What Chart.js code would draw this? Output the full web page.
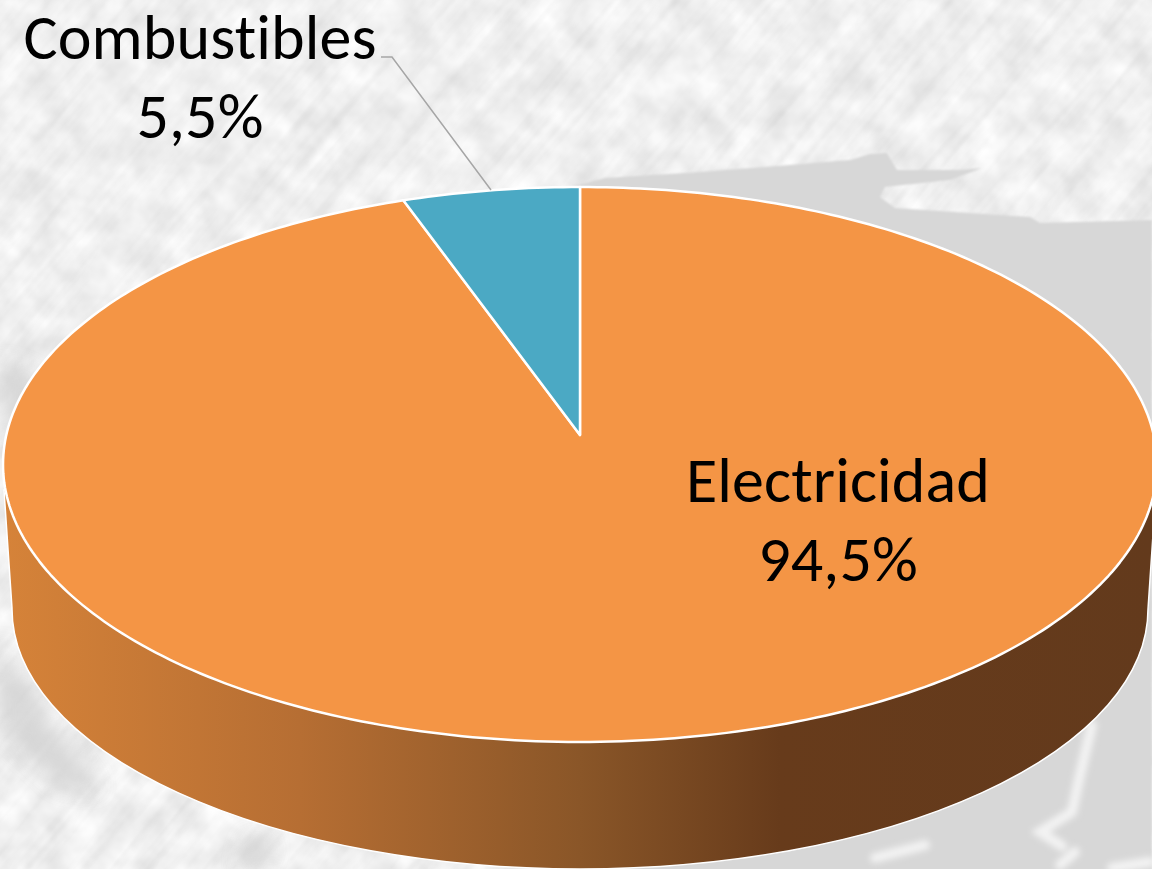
<!DOCTYPE html>
<html>
<head>
<meta charset="utf-8">
<title>Electricidad y combustibles</title>
<script src="https://cdn.jsdelivr.net/npm/chart.js@4/dist/chart.umd.js"></script>
<style>
  html, body { margin: 0; padding: 0; background: #f2f2f2; overflow: hidden; }
  #wrap { position: relative; width: 1152px; height: 869px; overflow: hidden; }
  #bg, #myChart { position: absolute; left: 0; top: 0; }
</style>
</head>
<body>
<div id="wrap">
<svg id="bg" width="1152" height="869" viewBox="0 0 1152 869" xmlns="http://www.w3.org/2000/svg">
  <defs>
    <filter id="mottle" x="0" y="0" width="100%" height="100%" color-interpolation-filters="sRGB">
      <feTurbulence type="fractalNoise" baseFrequency="0.03" numOctaves="3" seed="7"/>
      <feColorMatrix values=".15 0 0 0 .87  .15 0 0 0 .87  .15 0 0 0 .87  0 0 0 0 1"/>
    </filter>
    <filter id="stripes" x="0" y="0" width="100%" height="100%" color-interpolation-filters="sRGB">
      <feTurbulence type="fractalNoise" baseFrequency="0.006 0.11" numOctaves="2" seed="3"/>
      <feColorMatrix values=".08 0 0 0 .955  .08 0 0 0 .955  .08 0 0 0 .955  0 0 0 0 1"/>
    </filter>
    <filter id="soft"><feGaussianBlur stdDeviation="1"/></filter>
    <filter id="softer"><feGaussianBlur stdDeviation="3"/></filter>
    <filter id="softest"><feGaussianBlur stdDeviation="10"/></filter>
  </defs>
  <rect width="1152" height="869" filter="url(#mottle)"/>
  <g transform="rotate(-50 576 434)" style="mix-blend-mode:multiply">
    <rect x="-300" y="-400" width="1752" height="1669" filter="url(#stripes)"/>
  </g>
  <g fill="#d7d7d7" filter="url(#soft)">
    <path d="M560 190 L605 178 L700 172 L790 165 L850 160 L870 154 L887 153 L897 170 L960 170 L982 168 L950 180 L885 187 L880 197 L895 208 L1030 217 L1040 223 L1152 220 L1152 880 L600 880 L700 300 Z"/>
  </g>
  <g fill="#cfcfcf" filter="url(#softest)" opacity=".75">
    <path d="M0 362 L35 375 L50 395 L15 430 L0 425 Z"/>
    <path d="M0 640 L45 710 L100 790 L60 785 L0 730 Z"/>
    <path d="M240 869 L248 838 L272 842 L262 869 Z"/>
  </g>
  <g fill="none" stroke="#f3f3f3" stroke-width="10" stroke-linecap="round" filter="url(#softer)">
    <path d="M1092 725 L1080 775 L1072 812 L1040 832 L1062 846"/>
    <path d="M875 858 L925 845"/>
    <path d="M1060 865 L1075 852 M1112 868 L1150 862"/>
  </g>
</svg>
<canvas id="myChart" width="1152" height="869"></canvas>
</div>
<script>
var labels = ["Electricidad", "Combustibles"];
var values = [94.5, 5.5];
var colors = ["#F49545", "#4BA9C4"];

// circle seen in perspective: top at y=187, apex at y=435, bottom at y=742
var CX = 580, AX = 573.7, BY = -228.1, CY = 435, K = 0.1063;

function project(ang) {
  var X = Math.cos(ang), Y = -Math.sin(ang);
  var d = 1 + K * Y;
  return { x: CX + AX * X / d, y: (BY * Y + CY) / d };
}

// slices keep the angles the pie controller worked out, only the drawing is tilted
Chart.ArcElement.prototype.draw = function(ctx) {
  var o = this.options;
  var steps = Math.max(2, Math.ceil((this.endAngle - this.startAngle) * 60));
  ctx.save();
  ctx.beginPath();
  ctx.moveTo(CX, CY);
  for (var i = 0; i <= steps; i++) {
    var p = project(this.startAngle + (this.endAngle - this.startAngle) * i / steps);
    ctx.lineTo(p.x, p.y);
  }
  ctx.closePath();
  ctx.fillStyle = o.backgroundColor;
  ctx.fill();
  ctx.lineJoin = "round";
  ctx.lineWidth = o.borderWidth;
  ctx.strokeStyle = o.borderColor;
  ctx.stroke();
  ctx.restore();
};

var wallPlugin = {
  id: "wall",
  beforeDatasetsDraw: function(chart) {
    var ctx = chart.ctx;
    var g = ctx.createLinearGradient(0, 0, 1152, 0);
    g.addColorStop(0, "#D68339");
    g.addColorStop(300 / 1152, "#B66E33");
    g.addColorStop(580 / 1152, "#8A5628");
    g.addColorStop(780 / 1152, "#673B1B");
    g.addColorStop(1, "#633A1C");
    ctx.save();
    ctx.beginPath();
    ctx.moveTo(4, 490);
    ctx.lineTo(12, 608);
    ctx.ellipse(580, 609, 568, 260, 0, Math.PI, 0, true);
    ctx.lineTo(1156, 490);
    ctx.closePath();
    ctx.fillStyle = g;
    ctx.fill();
    ctx.lineWidth = 1.5;
    ctx.strokeStyle = "#ffffff";
    ctx.stroke();
    ctx.restore();
  }
};

var labelPlugin = {
  id: "pieLabels",
  afterDatasetsDraw: function(chart, args, opts) {
    var ctx = chart.ctx;
    ctx.save();
    ctx.strokeStyle = "#A6A6A6";
    ctx.lineWidth = 1.5;
    ctx.beginPath();
    ctx.moveTo(381, 57);
    ctx.lineTo(392, 57);
    ctx.lineTo(491, 190);
    ctx.stroke();
    ctx.fillStyle = "#000000";
    ctx.font = opts.font;
    ctx.letterSpacing = "0.1px"; // no "ti" ligature in the reference
    ctx.textAlign = "center";
    ctx.textBaseline = "alphabetic";
    labels.forEach(function(name, i) {
      var pos = opts.spots[i];
      ctx.fillText(name, pos[0], pos[1]);
      ctx.fillText(String(values[i]).replace(".", ",") + "%", pos[0], pos[1] + 79);
    });
    ctx.restore();
  }
};

var myChart = new Chart("myChart", {
  type: "pie",
  data: {
    labels: labels,
    datasets: [{
      data: values,
      backgroundColor: colors,
      borderColor: "#ffffff",
      borderWidth: 2.5
    }]
  },
  options: {
    animation: false,
    responsive: false,
    events: [],
    plugins: {
      legend: { display: false },
      tooltip: { enabled: false },
      pieLabels: {
        font: "64px Carlito, Lato, sans-serif",
        spots: [[838, 502], [200, 59]]
      }
    }
  },
  plugins: [wallPlugin, labelPlugin]
});
</script>
</body>
</html>
